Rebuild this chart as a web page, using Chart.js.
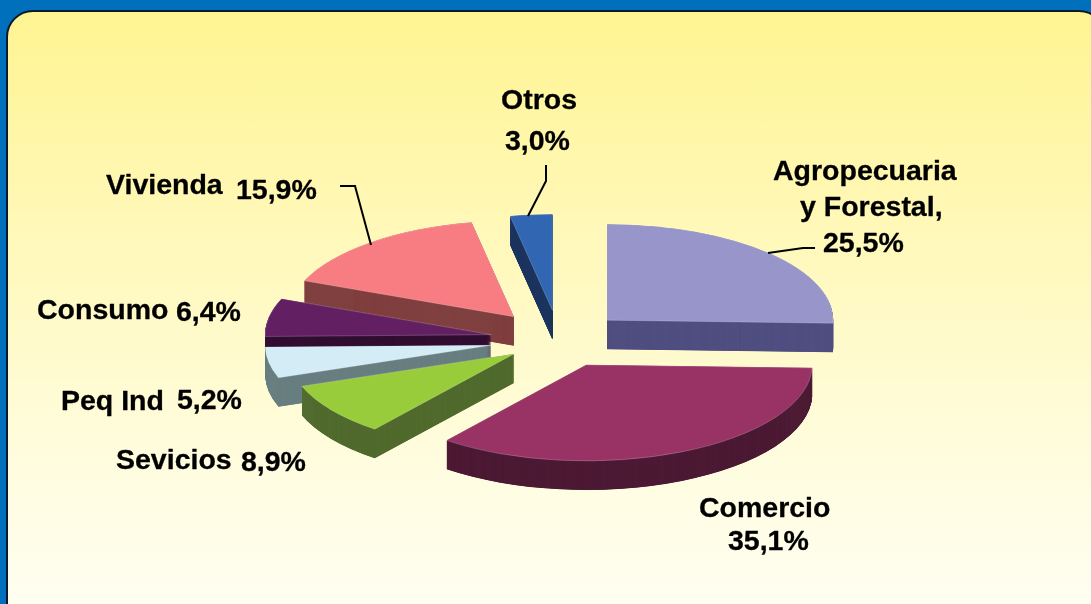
<!DOCTYPE html>
<html><head><meta charset="utf-8">
<script src="https://cdn.jsdelivr.net/npm/chart.js@4/dist/chart.umd.min.js"></script>
<style>
html,body{margin:0;padding:0;width:1091px;height:604px;overflow:hidden;background:#0070BC}
#panel{position:absolute;left:6px;top:10px;width:1100px;height:620px;box-sizing:border-box;border:2px solid #0a1a2a;border-radius:27px;background:linear-gradient(180deg,#FFF492 0%,#FFF8B8 35%,#FFFCDC 70%,#FFFFF4 100%)}
canvas{position:absolute;left:0;top:0}
</style></head><body>
<div id="panel"></div>
<canvas id="c" width="1091" height="604"></canvas>
<script>
const categories=["Agropecuaria y Forestal,","Comercio","Sevicios","Peq Ind","Consumo","Vivienda","Otros"];
const values=[25.5,35.1,8.9,5.2,6.4,15.9,3.0];
const topColors=["#9795C9","#993366","#99CC3A","#D3ECF6","#622062","#F77D82","#3167B2"];
const wallColors=["#504F80","#4D1B35","#526B2F","#697F80","#330F33","#804040","#1C355F"];
const explode=[268,258,220,276,276,284,280];
const wallOrder=[6,5,0,4,3,2,1];
const pct=v=>v.toFixed(1).replace(".",",")+"%";
const textItems=[
 ["Otros",501,101],[pct(values[6]),505,142],
 ["Agropecuaria",773,172],["y Forestal,",800,208],[pct(values[0]),823,244],
 ["Vivienda",106,186],[pct(values[5]),236,191],
 ["Consumo",37,311],[pct(values[4]),176,313],
 ["Peq Ind",61,402],[pct(values[3]),177,401],
 ["Sevicios",116,461],[pct(values[2]),241,463],
 ["Comercio",699,509],[pct(values[1]),728,542]
];
const leaders=[
 [[546,165],[546,181],[528,216]],
 [[815,248],[803,248],[768,253]],
 [[340,186],[355,186],[371,245]]
];
const RADIUS=226, TILT=0.425, DEPTH=29, CX=559, CY=340;
const tilt3d={
 id:"tilt3d",
 beforeDatasetsDraw(chart){
  const ctx=chart.ctx, arcs=chart.getDatasetMeta(0).data, a0=arcs[0];
  // keep exploded slices at their true radius and angle
  arcs.forEach(arc=>{arc.circumference=Math.PI/2;});
  ctx.save();
  ctx.translate(CX,CY);ctx.scale(1,TILT);ctx.translate(-a0.x,-a0.y);
  wallOrder.forEach(i=>{
   const arc=arcs[i], saved=arc.options, o=Object.create(saved);
   o.backgroundColor=wallColors[i];o.borderWidth=0;
   arc.options=o;
   for(let d=DEPTH;d>=0.25;d-=0.25){
    ctx.save();ctx.translate(0,d/TILT);arc.draw(ctx);ctx.restore();
   }
   arc.options=saved;
  });
 },
 afterDatasetsDraw(chart){
  const ctx=chart.ctx;
  ctx.restore();
  ctx.save();
  ctx.strokeStyle="#000";ctx.lineWidth=2;
  leaders.forEach(l=>{ctx.beginPath();l.forEach((p,i)=>i?ctx.lineTo(p[0],p[1]):ctx.moveTo(p[0],p[1]));ctx.stroke();});
  ctx.fillStyle="#000";ctx.font='bold 28.5px "Liberation Sans", Arial, sans-serif';
  ctx.textAlign="left";ctx.textBaseline="middle";ctx.lineWidth=0.3;ctx.lineJoin="round";
  textItems.forEach(t=>{ctx.fillText(t[0],t[1],t[2]);ctx.strokeText(t[0],t[1],t[2]);});
  ctx.restore();
 }
};
new Chart(document.getElementById("c"),{
 type:"pie",
 data:{labels:categories,datasets:[{data:values,backgroundColor:topColors,borderWidth:0.8,borderColor:"rgba(255,255,255,0.35)",offset:explode,hoverOffset:0}]},
 options:{responsive:false,animation:false,radius:RADIUS,layout:{padding:0},
  plugins:{legend:{display:false},tooltip:{enabled:false}},events:[]},
 plugins:[tilt3d]
});
</script>
</body></html>
